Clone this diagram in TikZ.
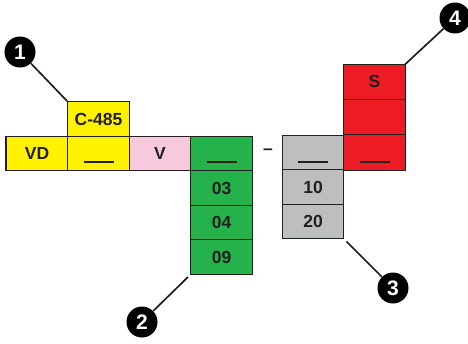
\documentclass[tikz,border=0pt]{standalone}
\usepackage{fontspec}
\setmainfont{Liberation Sans}
\definecolor{ink}{HTML}{231F20}
\definecolor{cyel}{HTML}{FFF200}
\definecolor{cpink}{HTML}{F7C9DD}
\definecolor{cgreen}{HTML}{25B24B}
\definecolor{cgray}{HTML}{BCBEC0}
\definecolor{cred}{HTML}{ED1C24}
\begin{document}
\begin{tikzpicture}[x=1pt,y=-1pt,
  cell/.style={draw=ink,line width=1.2pt,minimum width=61.5pt,minimum height=34.5pt,inner sep=0pt,
    font=\fontsize{17.5}{19}\selectfont\bfseries,text=ink},
  uline/.style={draw=ink,line width=1.6pt},
  callout/.style={circle,fill=black,minimum size=31pt,inner sep=0pt,text=white,
    font=\fontsize{21}{22}\selectfont\bfseries},
  leader/.style={draw=ink,line width=1.7pt}]
\useasboundingbox (0,0) rectangle (468,343);
% main row
\node[cell,fill=cyel,minimum width=62pt] (vd) at (37,153.5) {VD};
\node[cell,fill=cyel] (ya) at (98.5,153.5) {};
\node[cell,fill=cyel] (c485) at (98.5,119) {C-485};
\node[cell,fill=cpink] (v) at (160,153.5) {V};
\node[cell,fill=cgreen] (ga) at (221.5,153.5) {};
\node[cell,fill=cgreen] (g03) at (221.5,188) {03};
\node[cell,fill=cgreen] (g04) at (221.5,222.5) {04};
\node[cell,fill=cgreen] (g09) at (221.5,257) {09};
\node[font=\fontsize{17.5}{19}\selectfont\bfseries,text=ink] (dash) at (268,152) {\textendash};
\node[cell,fill=cgray] (ra) at (313,152.5) {};
\node[cell,fill=cgray] (r10) at (313,187) {10};
\node[cell,fill=cgray] (r20) at (313,221.5) {20};
\node[cell,fill=cred,minimum height=35.3pt] (sa) at (374.5,152.5) {};
\node[cell,fill=cred,minimum height=35.3pt] (sb) at (374.5,117.2) {};
\node[cell,fill=cred,minimum height=35.3pt] (ss) at (374.5,81.9) {S};
% underlines
\draw[uline] ([shift={(-15,8.5)}]ya.center) -- ++(30,0);
\draw[uline] ([shift={(-15,8.5)}]ga.center) -- ++(30,0);
\draw[uline] ([shift={(-15,9.5)}]ra.center) -- ++(30,0);
\draw[uline] ([shift={(-15,9.5)}]sa.center) -- ++(30,0);
% callouts
\node[callout] (n1) at (20,52) {1};
\node[callout] (n2) at (142,322) {2};
\node[callout] (n3) at (393,288) {3};
\node[callout] (n4) at (455,18) {4};
\draw[leader] (n1) -- (c485.north west);
\draw[leader,shorten >=3pt] (n2) -- (g09.south west);
\draw[leader,shorten >=3pt] (n3) -- (r20.south east);
\draw[leader,shorten >=-2pt] (n4) -- (ss.north east);
\end{tikzpicture}
\end{document}
